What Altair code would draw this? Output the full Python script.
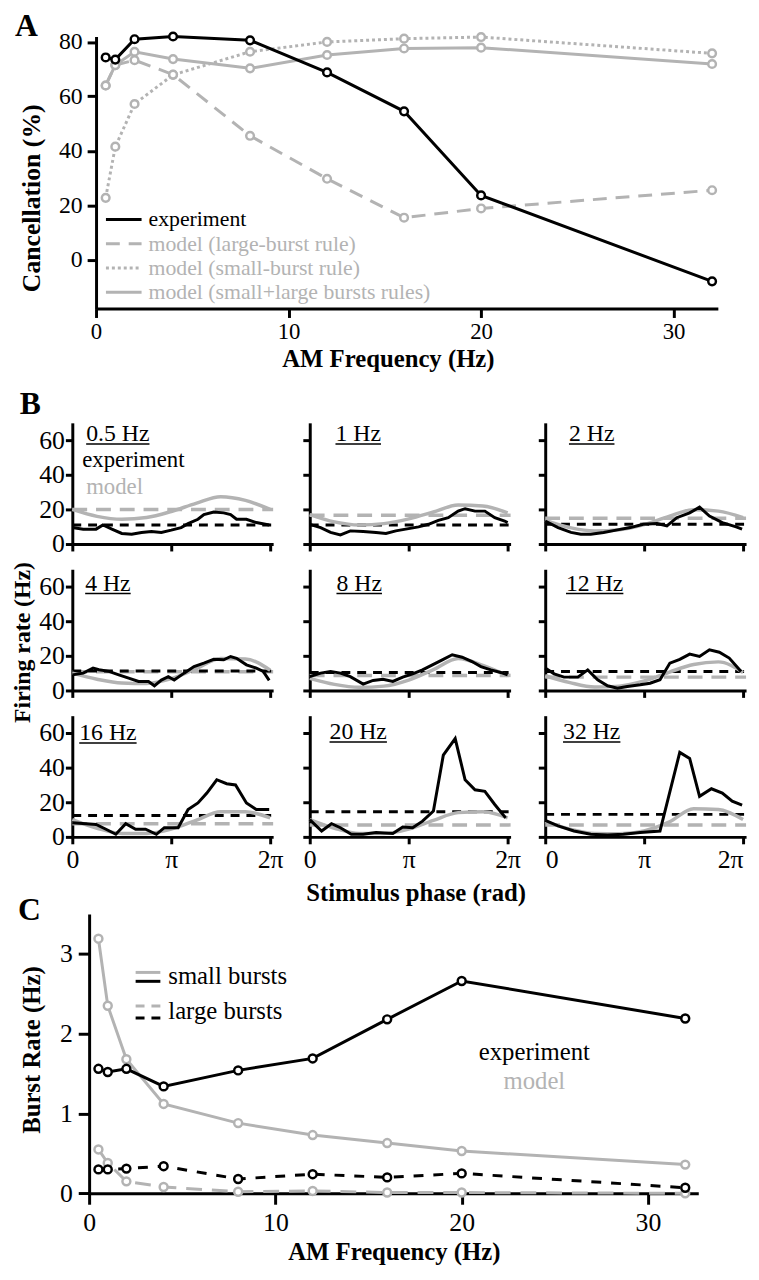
import altair as alt
import pandas as pd

FONT = "Liberation Serif, Times New Roman, Times, DejaVu Serif, serif"
GRAY = "#b3b3b3"
W, H = 743, 1264

# ---------------- Panel A : cancellation vs AM frequency ----------------
freq_a = [0.5, 1, 2, 4, 8, 12, 16, 20, 32]
cancel_experiment = [74.3, 73.5, 81.0, 82.0, 80.6, 68.8, 54.5, 23.6, -8.0]
cancel_large_rule = [64.0, 71.5, 73.3, 68.0, 45.5, 29.7, 15.4, 18.8, 25.5]
cancel_small_rule = [22.7, 41.5, 57.2, 67.9, 76.4, 80.0, 81.2, 81.8, 75.8]
cancel_both_rules = [64.0, 71.5, 76.4, 73.7, 70.3, 75.2, 77.6, 77.9, 71.9]
legend_a = ["experiment", "model (large-burst rule)", "model (small-burst rule)",
            "model (small+large bursts rules)"]

# ---------------- Panel B : firing rate vs stimulus phase (phase in units of pi) ----------------
panel_labels = ["0.5 Hz", "1 Hz", "2 Hz", "4 Hz", "8 Hz", "12 Hz", "16 Hz", "20 Hz", "32 Hz"]
exp_mean_rate = [11.0, 11.0, 11.4, 11.2, 10.4, 11.0, 12.4, 14.5, 13.0]
model_mean_rate = [20.0, 16.6, 14.9, 10.8, 8.7, 7.7, 7.6, 6.9, 6.9]
model_phase = [0, 0.25, 0.5, 0.75, 1.0, 1.25, 1.5, 1.75, 2.0]

exp_phase_0_5 = [0, 0.11, 0.24, 0.31, 0.4, 0.5, 0.6, 0.7, 0.8, 0.9, 1.0, 1.1, 1.17, 1.27, 1.33, 1.43, 1.53, 1.6, 1.66, 1.76, 1.86, 1.99]
exp_rate_0_5 = [9.5, 8.6, 8.6, 11.0, 8.6, 6.1, 5.7, 6.7, 7.2, 6.7, 8.0, 9.5, 11.8, 14.3, 17.0, 18.5, 18.0, 17.0, 14.3, 14.3, 12.4, 11.0]
model_rate_0_5 = [20, 16, 14.3, 15.3, 18.8, 23.5, 27.3, 25.2, 20]

exp_phase_1 = [0, 0.11, 0.21, 0.31, 0.41, 0.54, 0.67, 0.77, 0.87, 0.97, 1.1, 1.2, 1.3, 1.4, 1.5, 1.57, 1.67, 1.77, 1.87, 1.97, 2.0]
exp_rate_1 = [11.4, 9.5, 6.7, 5.3, 7.6, 7.2, 6.7, 6.1, 7.6, 8.6, 9.9, 11.4, 13.7, 15.2, 19.0, 20.4, 19.0, 19.0, 15.2, 13.3, 12.4]
model_rate_1 = [17, 12.8, 11, 11.8, 14.5, 18.5, 22.6, 22, 18]

exp_phase_2 = [0, 0.13, 0.26, 0.36, 0.46, 0.59, 0.73, 0.86, 0.99, 1.13, 1.23, 1.33, 1.46, 1.56, 1.66, 1.79, 1.93, 1.99]
exp_rate_2 = [13.3, 9.5, 6.7, 5.7, 5.7, 6.7, 8.2, 9.5, 11.4, 11.8, 10.5, 15.2, 18.0, 21.3, 16.2, 12.4, 9.9, 8.6]
model_rate_2 = [13.7, 9.5, 7.6, 8.3, 11.3, 16, 19.8, 19, 15.2]

exp_phase_4 = [0, 0.11, 0.21, 0.27, 0.37, 0.47, 0.57, 0.67, 0.77, 0.83, 0.9, 0.97, 1.03, 1.13, 1.23, 1.33, 1.43, 1.53, 1.6, 1.66, 1.76, 1.86, 1.93, 1.99]
exp_rate_4 = [9.0, 10.0, 12.9, 12.0, 11.0, 9.0, 7.1, 5.2, 5.2, 2.7, 6.0, 8.0, 6.0, 10.0, 13.8, 15.8, 18.0, 17.7, 19.6, 18.6, 14.8, 12.9, 11.0, 5.8]
model_rate_4 = [10, 6.5, 4.3, 4, 6.8, 12.5, 18.5, 18.2, 11.7]

exp_phase_8 = [0, 0.11, 0.21, 0.31, 0.41, 0.54, 0.64, 0.74, 0.84, 0.94, 1.04, 1.14, 1.24, 1.34, 1.44, 1.54, 1.64, 1.73, 1.83, 1.93, 2.0]
exp_rate_8 = [8.0, 10.0, 11.0, 10.0, 8.0, 3.7, 5.8, 6.5, 5.2, 7.7, 9.6, 11.9, 14.8, 17.7, 20.6, 19.2, 16.7, 13.8, 11.9, 10.4, 9.0]
model_rate_8 = [7, 3.5, 1.8, 2.5, 6, 12, 18.5, 14.5, 8.5]

exp_phase_12 = [0, 0.09, 0.19, 0.33, 0.43, 0.53, 0.63, 0.73, 0.83, 0.96, 1.06, 1.16, 1.26, 1.36, 1.46, 1.56, 1.66, 1.76, 1.86, 1.98]
exp_rate_12 = [12.9, 9.6, 7.7, 7.7, 11.9, 6.2, 2.7, 1.3, 2.3, 3.3, 4.2, 6.2, 15.8, 18.0, 21.0, 19.6, 23.5, 22.1, 18.7, 11.0]
model_rate_12 = [8.5, 4.5, 2, 2.5, 5.5, 10.5, 15, 16.5, 10.4]

exp_phase_16 = [0, 0.14, 0.24, 0.34, 0.44, 0.54, 0.64, 0.74, 0.85, 0.93, 1.07, 1.17, 1.27, 1.36, 1.46, 1.56, 1.65, 1.76, 1.86, 1.99]
exp_rate_16 = [8.2, 7.6, 7.2, 4.4, 1.5, 7.6, 4.4, 4.4, 1.5, 5.3, 5.3, 15.8, 19.6, 25.3, 33.0, 30.7, 30.0, 19.6, 15.8, 15.8]
model_rate_16 = [10, 5, 2, 2, 4.5, 9.5, 14.5, 14.5, 11]

exp_phase_20 = [0, 0.12, 0.22, 0.31, 0.42, 0.54, 0.67, 0.84, 0.94, 1.04, 1.14, 1.25, 1.35, 1.47, 1.57, 1.67, 1.77, 1.87, 1.98]
exp_rate_20 = [10.0, 3.4, 7.6, 5.3, 1.5, 1.5, 2.5, 1.9, 5.7, 5.3, 9.1, 14.9, 47.2, 56.8, 33.0, 27.2, 26.3, 18.7, 11.0]
model_rate_20 = [10, 5, 2, 2, 4.5, 9.5, 14, 14.5, 11]

exp_phase_32 = [0, 0.13, 0.29, 0.46, 0.63, 0.79, 0.96, 1.16, 1.36, 1.46, 1.56, 1.68, 1.79, 1.89, 1.99]
exp_rate_32 = [9.5, 6.3, 3.4, 1.5, 1.1, 1.5, 2.5, 3.4, 48.8, 45.3, 23.4, 27.8, 25.3, 20.6, 18.3]
model_rate_32 = [8.8, 4.5, 2, 1.8, 3.5, 8.5, 16.3, 15.8, 10]

exp_phases = [exp_phase_0_5, exp_phase_1, exp_phase_2, exp_phase_4, exp_phase_8,
              exp_phase_12, exp_phase_16, exp_phase_20, exp_phase_32]
exp_rates = [exp_rate_0_5, exp_rate_1, exp_rate_2, exp_rate_4, exp_rate_8,
             exp_rate_12, exp_rate_16, exp_rate_20, exp_rate_32]
model_rates = [model_rate_0_5, model_rate_1, model_rate_2, model_rate_4, model_rate_8,
               model_rate_12, model_rate_16, model_rate_20, model_rate_32]

# ---------------- Panel C : burst rate vs AM frequency ----------------
freq_c = [0.5, 1, 2, 4, 8, 12, 16, 20, 32]
small_burst_experiment = [1.56, 1.52, 1.56, 1.34, 1.54, 1.69, 2.18, 2.66, 2.19]
large_burst_experiment = [0.30, 0.30, 0.31, 0.34, 0.18, 0.24, 0.20, 0.25, 0.07]
small_burst_model = [3.19, 2.35, 1.68, 1.12, 0.88, 0.73, 0.63, 0.53, 0.36]
large_burst_model = [0.55, 0.38, 0.15, 0.08, 0.02, 0.03, 0.01, 0.01, 0.0]

# ---------------- layout (view pixel coordinates) ----------------
B_LEFT = [65, 305, 543]
B_BOTTOM = [535, 683, 831]
ONE = alt.Data(values=[{"k": 0}])


def axis(orient, offset, values, size, tick, pad, labels=True, expr=None,
         title=None, tx=0, ty=0, tsize=25, flush=False):
    kw = dict(orient=orient, offset=offset, values=values, labels=labels,
              labelFontSize=size, tickSize=tick, labelPadding=pad, grid=False,
              labelFlush=(5 if flush else False), labelOverlap=False)
    if expr:
        kw["labelExpr"] = expr
    if title:
        kw.update(title=title, titleX=tx, titleY=ty, titleFontSize=tsize,
                  titleBaseline="alphabetic", titleAlign="center")
        if orient == "left":
            kw["titleAngle"] = 270
    else:
        kw["title"] = None
    return alt.Axis(**kw)


def text(txt, x, y, size=25, color="black", weight="normal", align="left"):
    return alt.Chart(ONE).mark_text(
        text=txt, align=align, baseline="alphabetic", font=FONT, fontSize=size,
        fontWeight=weight, color=color
    ).encode(x=alt.value(x), y=alt.value(y))


def hline(x1, x2, y, color="black", width=3, dash=None):
    kw = dict(color=color, strokeWidth=width)
    if dash:
        kw["strokeDash"] = dash
    return alt.Chart(ONE).mark_rule(**kw).encode(
        x=alt.value(x1), x2=alt.value(x2), y=alt.value(y))


# ---------------- Panel A ----------------
xsA = alt.Scale(domain=[0, 32.3], range=[89, 717.5], nice=False, zero=False)
ysA = alt.Scale(domain=[-18, 82], range=[297, 22], nice=False, zero=False)
xA = alt.X("freq:Q", scale=xsA,
           axis=axis("bottom", 297 - H, [0, 10, 20, 30], 23, 9, 3,
                     title="AM Frequency (Hz)", tx=384, ty=59))
yA = alt.Y("cancel:Q", scale=ysA,
           axis=axis("left", -89, [0, 20, 40, 60, 80], 24, 9, 5,
                     title="Cancellation (%)", tx=-57, ty=185, tsize=26))


def a_series(vals, color, dash=None):
    df = pd.DataFrame({"freq": freq_a, "cancel": vals})
    lk = dict(color=color, strokeWidth=3)
    if dash:
        lk["strokeDash"] = dash
    line = alt.Chart(df).mark_line(**lk).encode(x=xA, y=yA)
    pts = alt.Chart(df).mark_point(shape="circle", filled=True, fill="white",
                                   stroke=color, strokeWidth=2.5, size=60,
                                   opacity=1).encode(x=xA, y=yA)
    return [line, pts]


panelA = alt.layer(
    *a_series(cancel_small_rule, GRAY, [3, 3]),
    *a_series(cancel_both_rules, GRAY),
    *a_series(cancel_large_rule, GRAY, [14, 9]),
    *a_series(cancel_experiment, "black"),
)

# ---------------- Panel B ----------------
def b_panel(i):
    r, c = divmod(i, 3)
    x0, yb = B_LEFT[c], B_BOTTOM[r]
    xs = alt.Scale(domain=[0, 2.03], range=[x0, x0 + 203], nice=False, zero=False)
    ys = alt.Scale(domain=[0, 70], range=[yb, yb - 122.5], nice=False, zero=False)
    xt = dict(title="Stimulus phase (rad)", tx=412, ty=64) if (r == 2 and c == 1) else {}
    yt = dict(title="Firing rate (Hz)", tx=-43, ty=634, tsize=24) if (r == 1 and c == 0) else {}
    xenc = alt.X("phase:Q", scale=xs,
                 axis=axis("bottom", yb - H, [0, 1, 2], 26, 7, 3, labels=(r == 2),
                           expr="datum.value == 0 ? '0' : (datum.value == 1 ? 'π' : '2π')",
                           flush=(c == 2), **xt))
    yenc = alt.Y("rate:Q", scale=ys,
                 axis=axis("left", -x0, [0, 20, 40, 60], 26, 7, 1, labels=(c == 0), **yt))
    means_m = pd.DataFrame({"phase": [0], "phase_end": [2.03], "rate": [model_mean_rate[i]]})
    means_e = pd.DataFrame({"phase": [0], "phase_end": [2.03], "rate": [exp_mean_rate[i]]})
    model_df = pd.DataFrame({"phase": model_phase, "rate": model_rates[i]})
    exp_df = pd.DataFrame({"phase": exp_phases[i], "rate": exp_rates[i]})
    return alt.layer(
        alt.Chart(means_m).mark_rule(color=GRAY, strokeWidth=3.5, strokeDash=[15, 9]).encode(
            x=xenc, x2="phase_end:Q", y=yenc),
        alt.Chart(means_e).mark_rule(color="black", strokeWidth=3, strokeDash=[9, 7]).encode(
            x=xenc, x2="phase_end:Q", y=yenc),
        alt.Chart(model_df).mark_line(color=GRAY, strokeWidth=3.5, interpolate="monotone").encode(
            x=xenc, y=yenc),
        alt.Chart(exp_df).mark_line(color="black", strokeWidth=3).encode(x=xenc, y=yenc),
    )


panelsB = [b_panel(i) for i in range(9)]

# ---------------- Panel C ----------------
xsC = alt.Scale(domain=[0, 32.7], range=[82, 697.7], nice=False, zero=False)
ysC = alt.Scale(domain=[0, 3.5], range=[1191.3, 908.9], nice=False, zero=False)
xC = alt.X("freq:Q", scale=xsC,
           axis=axis("bottom", 1191.3 - H, [0, 10, 20, 30], 26, 11, 6,
                     title="AM Frequency (Hz)", tx=390, ty=67))
yC = alt.Y("burst:Q", scale=ysC,
           axis=axis("left", -82, [0, 1, 2, 3], 26, 11, 6,
                     title="Burst Rate (Hz)", tx=-50, ty=1046))


def c_series(vals, color, dash=None):
    df = pd.DataFrame({"freq": freq_c, "burst": vals})
    lk = dict(color=color, strokeWidth=3)
    if dash:
        lk["strokeDash"] = dash
    line = alt.Chart(df).mark_line(**lk).encode(x=xC, y=yC)
    pts = alt.Chart(df).mark_point(shape="circle", filled=True, fill="white",
                                   stroke=color, strokeWidth=2.5, size=64,
                                   opacity=1).encode(x=xC, y=yC)
    return [line, pts]


panelC = alt.layer(
    *c_series(small_burst_model, GRAY),
    *c_series(large_burst_model, GRAY, [16, 10]),
    *c_series(small_burst_experiment, "black"),
    *c_series(large_burst_experiment, "black", [10, 10]),
)

# ---------------- annotations ----------------
annotations = [
    text("A", 7, 22, size=32, weight="bold"),
    text("B", 12, 404, size=32, weight="bold"),
    text("C", 10, 915, size=32, weight="bold"),
    # legend A
    hline(99, 135, 207, "black", 3),
    hline(99, 135, 231.5, GRAY, 3, [14, 9]),
    hline(99, 135, 256, GRAY, 3, [3, 3]),
    hline(99, 135, 280.5, GRAY, 3),
    text(legend_a[0], 142, 214, size=22),
    text(legend_a[1], 142, 238.5, size=22, color=GRAY),
    text(legend_a[2], 142, 263, size=22, color=GRAY),
    text(legend_a[3], 142, 287.5, size=22, color=GRAY),
    # panel B labels
    text("experiment", 75, 457.5, size=23),
    text("model", 79, 484, size=23, color=GRAY),
    # legend C
    hline(129, 154, 968, GRAY, 3),
    hline(129, 154, 977, "black", 3),
    hline(129, 154, 1002, GRAY, 3, [9, 7]),
    hline(129, 154, 1014, "black", 3, [9, 7]),
    text("small bursts", 162, 980, size=25),
    text("large bursts", 162, 1015, size=25),
    text("experiment", 532, 1057, size=25, align="center"),
    text("model", 532, 1086, size=25, color=GRAY, align="center"),
]

label_x = [79, 331, 567, 78, 332, 564, 72, 325, 561]
label_y = [431, 431, 431, 582, 582, 582, 733, 732, 732]
label_w = [64, 46, 46, 46, 46, 58, 58, 58, 58]
for i, lab in enumerate(panel_labels):
    annotations.append(text(lab, label_x[i], label_y[i], size=24))
    annotations.append(hline(label_x[i], label_x[i] + label_w[i], label_y[i] + 3, "black", 1.5))

chart = alt.layer(panelA, *panelsB, panelC, *annotations).resolve_scale(
    x="independent", y="independent"
).properties(
    width=W, height=H,
    autosize=alt.AutoSizeParams(type="none"),
    padding={"left": 0, "top": 0, "right": 8, "bottom": 0},
).configure_view(strokeWidth=0).configure_axis(
    domainColor="black", domainWidth=3, tickColor="black", tickWidth=3,
    labelColor="black", labelFont=FONT, titleFont=FONT, titleColor="black",
    titleFontWeight="bold", grid=False,
)

chart.save("out.html", embed_options={"renderer": "svg", "actions": False})
